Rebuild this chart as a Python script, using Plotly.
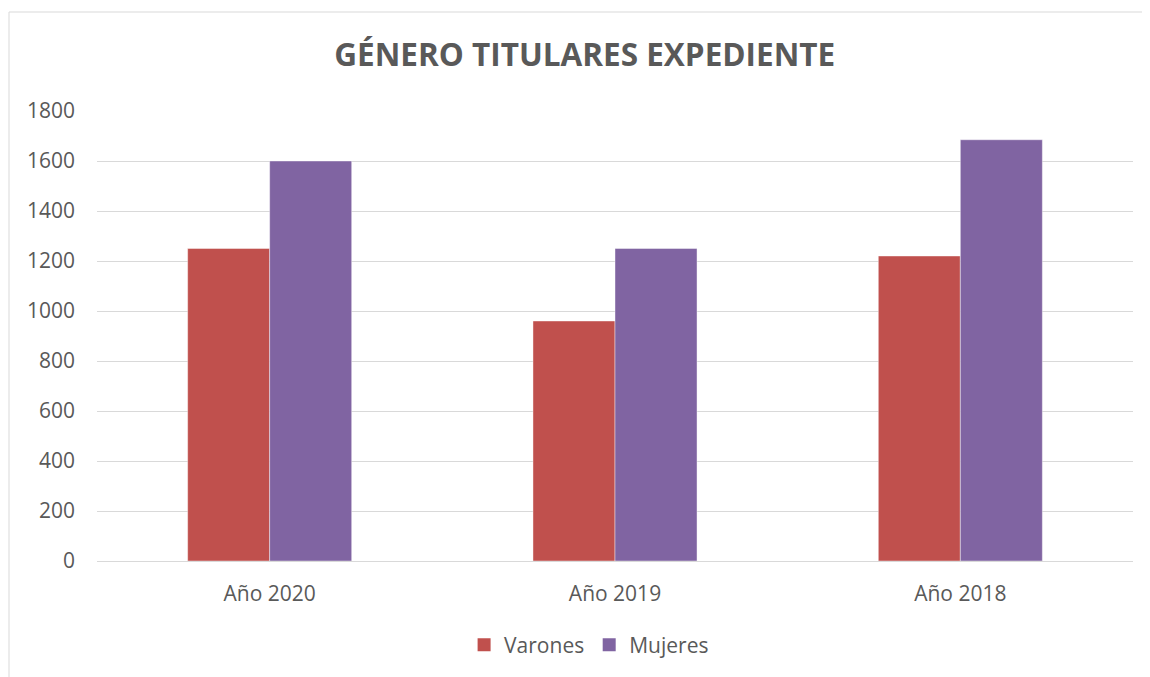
import plotly.graph_objects as go

categories = ["Año 2020", "Año 2019", "Año 2018"]
varones = [1250, 960, 1220]
mujeres = [1600, 1250, 1685]
y_ticks = [0, 200, 400, 600, 800, 1000, 1200, 1400, 1600, 1800]

font_family = "Open Sans, Noto Sans, sans-serif"
text_color = "#595959"
red = "#C0504D"
purple = "#8064A2"

fig = go.Figure()
fig.add_trace(go.Bar(name="Varones", x=categories, y=varones, showlegend=False,
                     marker=dict(color=red, line=dict(color="rgba(255,255,255,0.6)", width=0.7))))
fig.add_trace(go.Bar(name="Mujeres", x=categories, y=mujeres, showlegend=False,
                     marker=dict(color=purple, line=dict(color="rgba(255,255,255,0.6)", width=0.7))))
# legend entries with larger square swatches
fig.add_trace(go.Scatter(name="Varones", x=[None], y=[None], mode="markers",
                         marker=dict(symbol="square", size=13, color=red)))
fig.add_trace(go.Scatter(name="Mujeres", x=[None], y=[None], mode="markers",
                         marker=dict(symbol="square", size=13, color=purple)))

fig.update_layout(
    width=1150, height=677,
    margin=dict(l=89, r=25, t=103, b=124),
    paper_bgcolor="white", plot_bgcolor="white",
    barmode="group", bargap=0.525, bargroupgap=0,
    font=dict(family=font_family, color=text_color, size=21),
    title=dict(text="<b>GÉNERO TITULARES EXPEDIENTE</b>", x=0.5015, xanchor="center",
               y=1 - 47 / 677, yanchor="middle",
               font=dict(size=31.5, color=text_color, family=font_family)),
    legend=dict(orientation="h", x=0.475, xanchor="center", y=-0.187, yanchor="middle",
                font=dict(size=21, color=text_color), itemwidth=30, traceorder="normal",
                itemsizing="trace"),
    showlegend=True,
)
fig.update_yaxes(range=[0, 1800], tickvals=y_ticks, showgrid=True, gridcolor="#D9D9D9",
                 gridwidth=1, zeroline=True, zerolinecolor="#D9D9D9", zerolinewidth=1,
                 showline=False, ticks="", ticklabelstandoff=21,
                 tickfont=dict(size=21, color=text_color))
fig.update_xaxes(showline=False, ticks="", ticklabelstandoff=18,
                 tickfont=dict(size=21, color=text_color))

fig.add_shape(type="rect", xref="paper", yref="paper",
              x0=(9 - 97) / 1036, x1=1.2, y0=-0.6, y1=1 + (111 - 12) / 450,
              line=dict(color="#D9D9D9", width=1), fillcolor="rgba(0,0,0,0)", layer="below")

fig.write_html("out.html")
